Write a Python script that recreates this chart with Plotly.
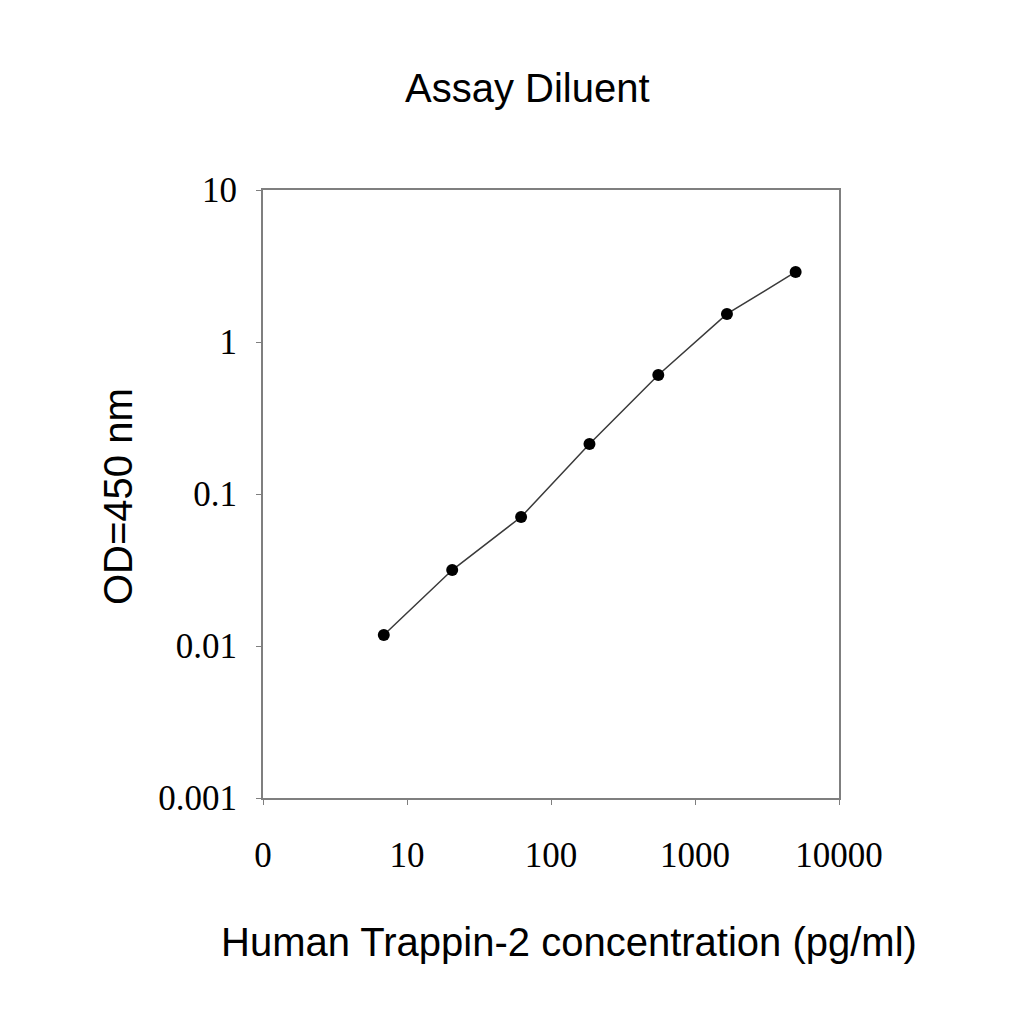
import plotly.graph_objects as go

# concentration (pg/ml) and OD at 450 nm
concentration = [6.9, 20.6, 62, 185, 556, 1667, 5000]
od_450 = [0.0118, 0.0316, 0.0706, 0.213, 0.607, 1.53, 2.89]

x_tick_vals = [1, 10, 100, 1000, 10000]
x_tick_text = ["0", "10", "100", "1000", "10000"]
y_tick_vals = [0.001, 0.01, 0.1, 1, 10]
y_tick_text = ["0.001", "0.01", "0.1", "1", "10"]

serif = "Liberation Serif, Times New Roman, serif"
sans = "Liberation Sans, Arial, sans-serif"

fig = go.Figure()
fig.add_trace(go.Scatter(x=concentration, y=od_450,
                         mode="lines+markers",
                         line=dict(color="#3a3a3a", width=1.5),
                         marker=dict(color="black", size=12),
                         showlegend=False))

axis_style = dict(type="log", showline=True, linecolor="#7f7f7f", linewidth=2,
                  mirror=True, showgrid=False, zeroline=False,
                  ticks="outside", ticklen=5, tickcolor="#7f7f7f",
                  tickfont=dict(family=serif, size=35, color="black"))

fig.update_xaxes(range=[0, 4], tickvals=x_tick_vals, ticktext=x_tick_text,
                 ticklabelstandoff=20, **axis_style)
fig.update_yaxes(range=[-3, 1], tickvals=y_tick_vals, ticktext=y_tick_text,
                 ticklabelstandoff=12, **axis_style)

fig.update_layout(width=1024, height=1024,
                  margin=dict(l=255, r=193, t=182, b=234),
                  plot_bgcolor="white", paper_bgcolor="white")

# titles placed in paper coords (plot area: x 263..839, y 190..798 on the page)
title_font = dict(family=sans, size=40, color="black")
fig.add_annotation(text="Assay Diluent", x=(527 - 263) / 576, y=(798 - 88) / 608,
                   xref="paper", yref="paper", showarrow=False,
                   xanchor="center", yanchor="middle", font=title_font)
fig.add_annotation(text="Human Trappin-2 concentration (pg/ml)", x=(569 - 263) / 576,
                   y=-(942 - 798) / 608, xref="paper", yref="paper", showarrow=False,
                   xanchor="center", yanchor="middle", font=title_font)
fig.add_annotation(text="OD=450 nm", x=-(263 - 118) / 576, y=(798 - 497) / 608,
                   xref="paper", yref="paper", showarrow=False, textangle=-90,
                   xanchor="center", yanchor="middle", font=title_font)

fig.write_html("out.html")
